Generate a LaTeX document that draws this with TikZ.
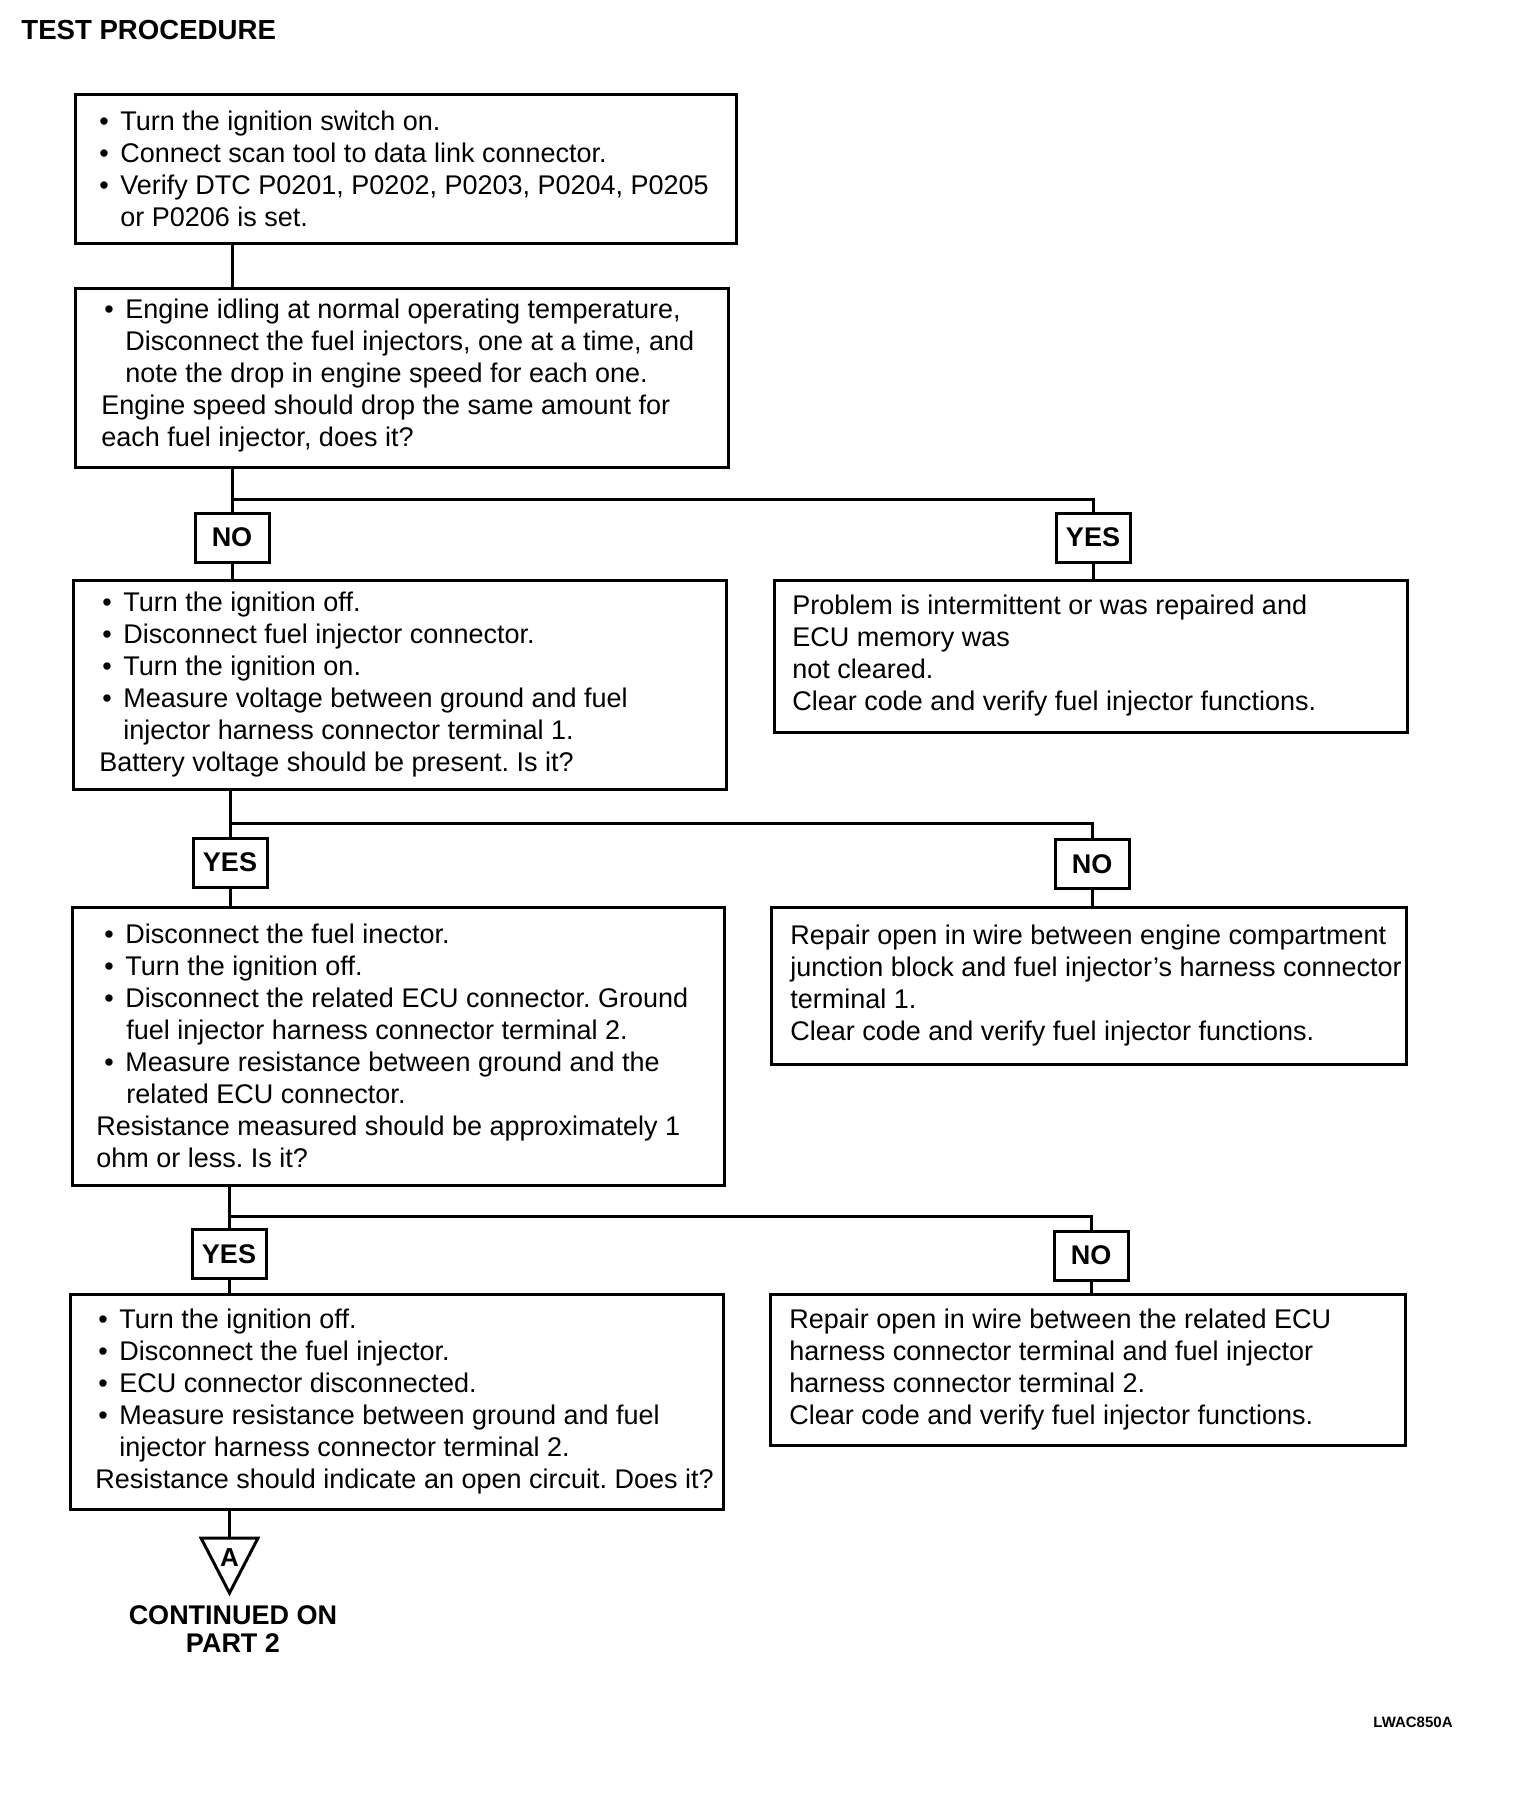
\documentclass[tikz,border=0pt]{standalone}
\usepackage{fontspec}
\setmainfont{Liberation Sans}
\usetikzlibrary{fit}
\frenchspacing
\newcommand\bl[2][0pt]{\hspace*{\dimexpr1.5pt+#1\relax}\makebox[10.5pt][l]{•}#2}
\newcommand\ct[2][0pt]{\hspace*{\dimexpr12pt+#1\relax}#2}
\tikzset{
  box/.style={draw, line width=1.5pt, inner sep=0pt},
  txt/.style={anchor=west, align=left, inner sep=0pt, font=\fontsize{13.5pt}{16pt}\selectfont},
  lab/.style={draw, line width=1.5pt, minimum width=37pt, minimum height=24.5pt, inner sep=0pt, font=\bfseries\fontsize{13.5pt}{16pt}\selectfont},
  conn/.style={line width=1.5pt},
  bold/.style={inner sep=0pt, font=\bfseries\fontsize{13.5pt}{14pt}\selectfont}
}
\begin{document}
\begin{tikzpicture}[x=0.5pt,y=-0.5pt]
\useasboundingbox (0,0) rectangle (1536,1800);
% title
\node[bold, anchor=west, font=\bfseries\fontsize{13.8pt}{14pt}\selectfont] (title) at (21,30) {TEST PROCEDURE};
% boxes
\node[box, fit={(75,94) (736,243)}] (b1) {};
\node[txt] (t1) at (96,168.5) {\bl{Turn the ignition switch on.}\\\bl{Connect scan tool to data link connector.}\\\bl{Verify DTC P0201, P0202, P0203, P0204, P0205}\\\ct{or P0206 is set.}};
\node[box, fit={(75,288) (728,467)}] (b2) {};
\node[txt] (t2) at (101,376) {\bl{Engine idling at normal operating temperature,}\\\ct{Disconnect the fuel injectors, one at a time, and}\\\ct{note the drop in engine speed for each one.}\\Engine speed should drop the same amount for\\each fuel injector, does it?};
\node[lab] (n1) at (232,537.5) {NO};
\node[lab] (y1) at (1093,537.5) {YES};
\node[box, fit={(73,580) (726,789)}] (b3) {};
\node[txt] (t3) at (99,684.5) {\bl{Turn the ignition off.}\\\bl{Disconnect fuel injector connector.}\\\bl{Turn the ignition on.}\\\bl{Measure voltage between ground and fuel}\\\ct{injector harness connector terminal 1.}\\Battery voltage should be present. Is it?};
\node[box, fit={(774,580) (1407,732)}] (r1) {};
\node[txt] (tr1) at (792,656) {Problem is intermittent or was repaired and\\ECU memory was\\not cleared.\\Clear code and verify fuel injector functions.};
\node[lab] (y2) at (230,862.5) {YES};
\node[lab] (n2) at (1092,864) {NO};
\node[box, fit={(72,907) (724,1185)}] (b4) {};
\node[txt] (t4) at (96,1046) {\bl[2.5pt]{Disconnect the fuel inector.}\\\bl[2.5pt]{Turn the ignition off.}\\\bl[2.5pt]{Disconnect the related ECU connector. Ground}\\\ct[3pt]{fuel injector harness connector terminal 2.}\\\bl[2.5pt]{Measure resistance between ground and the}\\\ct[3pt]{related ECU connector.}\\Resistance measured should be approximately 1\\ohm or less. Is it?};
\node[box, fit={(771,907) (1406,1064)}] (r2) {};
\node[txt] (tr2) at (790,985.5) {Repair open in wire between engine compartment\\junction block and fuel injector's harness connector\\terminal 1.\\Clear code and verify fuel injector functions.};
\node[lab] (y3) at (229,1254) {YES};
\node[lab] (n3) at (1091,1255.5) {NO};
\node[box, fit={(70,1294) (723,1509)}] (b5) {};
\node[txt] (t5) at (95,1401.5) {\bl{Turn the ignition off.}\\\bl{Disconnect the fuel injector.}\\\bl{ECU connector disconnected.}\\\bl{Measure resistance between ground and fuel}\\\ct{injector harness connector terminal 2.}\\Resistance should indicate an open circuit. Does it?};
\node[box, fit={(770,1294) (1405,1445)}] (r3) {};
\node[txt] (tr3) at (789,1369.5) {Repair open in wire between the related ECU\\harness connector terminal and fuel injector\\harness connector terminal 2.\\Clear code and verify fuel injector functions.};
% connector triangle
\coordinate (tl) at (201,1538);
\coordinate (tr) at (258,1538);
\coordinate (ta) at (229.5,1593);
\coordinate (ttop) at (229.5,1538);
\draw[conn, line join=miter] (tl) -- (tr) -- (ta) -- cycle;
\node[inner sep=0pt, font=\bfseries\fontsize{13pt}{13pt}\selectfont] (A) at (229.5,1558) {A};
\node[bold, align=center] (cont) at (233,1629) {CONTINUED ON\\PART 2};
\node[inner sep=0pt, font=\bfseries\fontsize{7.5pt}{8pt}\selectfont, anchor=west] (code) at (1373,1722) {LWAC850A};
% junctions
\coordinate (j1) at (232,499);
\coordinate (j2) at (232,823);
\coordinate (j3) at (231,1216);
% connectors
\draw[conn] (b1.south -| n1) -- (b2.north -| n1);
\draw[conn] (b2.south -| n1) -- (n1.north);
\draw[conn] (j1) -| (y1.north);
\draw[conn] (n1.south) -- (b3.north -| n1);
\draw[conn] (y1.south) -- (r1.north -| y1);
\draw[conn] (b3.south -| y2) -- (y2.north);
\draw[conn] (j2 -| y2) -| (n2.north);
\draw[conn] (y2.south) -- (b4.north -| y2);
\draw[conn] (n2.south) -- (r2.north -| n2);
\draw[conn] (b4.south -| y3) -- (y3.north);
\draw[conn] (j3 -| y3) -| (n3.north);
\draw[conn] (y3.south) -- (b5.north -| y3);
\draw[conn] (n3.south) -- (r3.north -| n3);
\draw[conn] (b5.south -| ttop) -- (ttop);
\end{tikzpicture}
\end{document}
